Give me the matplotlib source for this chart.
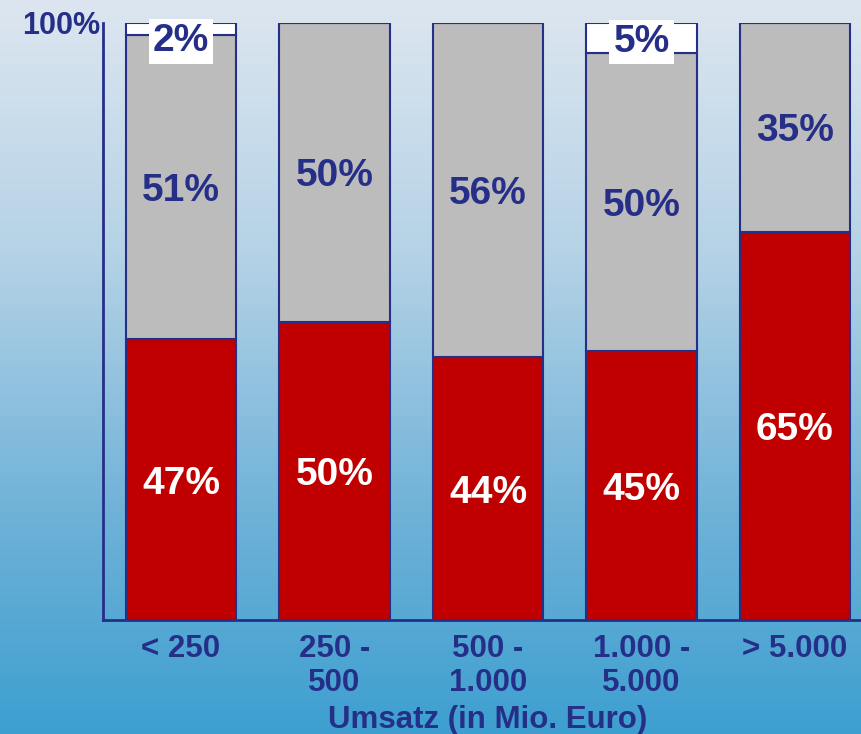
import numpy as np
import matplotlib
matplotlib.use("Agg")
import matplotlib.pyplot as plt
from matplotlib.colors import LinearSegmentedColormap

plt.rcParams['font.family'] = ['Liberation Sans', 'DejaVu Sans']
plt.rcParams['font.weight'] = 'bold'

# data
categories = ['< 250', '250 -\n500', '500 -\n1.000', '1.000 -\n5.000', '> 5.000']
red_share = [47, 50, 44, 45, 65]
gray_share = [51, 50, 56, 50, 35]
white_share = [2, 0, 0, 5, 0]

navy = '#262f88'
red = '#c00000'
gray = '#bcbcbc'

fig = plt.figure(figsize=(8.61, 7.34), dpi=100)

# background gradient over the whole figure
bg = fig.add_axes([0, 0, 1, 1], zorder=-1)
grad_cmap = LinearSegmentedColormap.from_list(
    'bg', [(0.0, '#dde6f0'), (0.35, '#b4d2e6'), (0.7, '#6fb2d8'), (1.0, '#3d9fd0')])
bg.imshow(np.linspace(0, 1, 256).reshape(-1, 1), aspect='auto', cmap=grad_cmap,
          extent=[0, 1, 1, 0])
bg.set_axis_off()

ax = fig.add_axes([103 / 861, 1 - 620 / 734, 1 - 103 / 861, (620 - 23) / 734])
ax.patch.set_alpha(0)

x = np.arange(len(categories))
red_v = np.array(red_share) / 100
gray_v = np.array(gray_share) / 100
white_v = np.array(white_share) / 100
width = 0.717
kw = dict(width=width, edgecolor=navy, linewidth=1.5)
ax.bar(x, red_v, color=red, **kw)
ax.bar(x, gray_v, bottom=red_v, color=gray, **kw)
ax.bar(x, white_v, bottom=red_v + gray_v, color='white', **kw)

fs = 28
for i in x:
    ax.text(i, red_v[i] / 2, f'{red_share[i]}%', ha='center',
            va='center_baseline', color='white', fontsize=fs, fontweight='bold')
    ax.text(i, red_v[i] + gray_v[i] / 2, f'{gray_share[i]}%', ha='center',
            va='center_baseline', color=navy, fontsize=fs, fontweight='bold')
    if white_share[i] > 0:
        ax.text(i, 1 - max(white_v[i] / 2, 0.024), f'{white_share[i]}%',
                ha='center', va='center_baseline', color=navy, fontsize=fs,
                fontweight='bold',
                bbox=dict(facecolor='white', edgecolor='none', pad=3))

ax.set_xlim(-0.508, 4.43)
ax.set_ylim(0, 1)
ax.set_xticks(x)
ax.set_xticklabels(categories, fontsize=22.5, color=navy, fontweight='bold',
                   linespacing=1.2)
ax.set_yticks([1])
ax.set_yticklabels(['100%'], fontsize=22, color=navy, fontweight='bold')
ax.tick_params(axis='x', length=0, pad=10)
ax.tick_params(axis='y', length=0, pad=2)
ax.set_xlabel('Umsatz (in Mio. Euro)', fontsize=22.5, color=navy,
              fontweight='bold', labelpad=0)
ax.xaxis.set_label_coords((2 + 0.508) / (4.43 + 0.508), -0.142)
for s in ['top', 'right']:
    ax.spines[s].set_visible(False)
for s in ['left', 'bottom']:
    ax.spines[s].set_color(navy)
    ax.spines[s].set_linewidth(2)

fig.savefig('out.png', dpi=100)
